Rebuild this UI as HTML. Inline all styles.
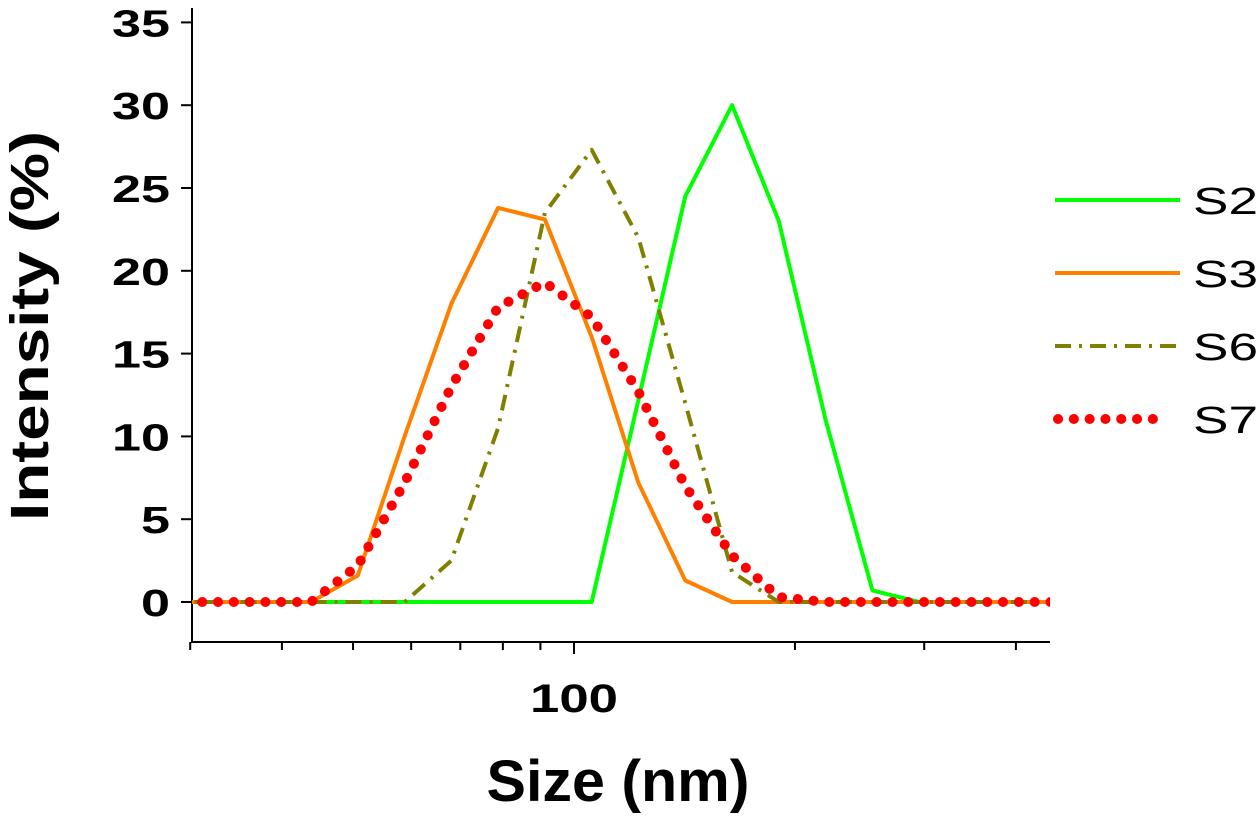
<!DOCTYPE html>
<html><head><meta charset="utf-8"><style>
body{margin:0;background:#fff;}
svg{display:block;font-family:"Liberation Sans",Arial,sans-serif;}
</style></head><body>
<svg id="chart" width="1260" height="816" viewBox="0 0 1260 816">
<defs><clipPath id="plotclip"><rect x="192" y="0" width="858" height="642"/></clipPath></defs>
<g id="axes"></g>
<g id="series" clip-path="url(#plotclip)"></g>
<g id="legend"></g>
<text x="618" y="801" font-size="58" font-weight="bold" text-anchor="middle" textLength="263" lengthAdjust="spacingAndGlyphs">Size (nm)</text>
<text transform="translate(48,326) rotate(-90)" font-size="54" font-weight="bold" text-anchor="middle" textLength="390" lengthAdjust="spacingAndGlyphs">Intensity (%)</text>
</svg>
<script>
const sizes=[28.21,32.67,37.84,43.82,50.75,58.77,68.06,78.82,91.28,105.7,122.4,141.8,164.2,190.1,220.2,255.0,295.3,342.0,396.1,458.7];
const s2=[0,0,0,0,0,0,0,0,0,0,12.2,24.5,30,23,11,0.7,0,0,0,0];
const s3=[0,0,0,0,1.6,10,18,23.8,23.1,16,7.2,1.3,0,0,0,0,0,0,0,0];
const s6=[0,0,0,0,0,0,2.5,10.5,23.5,27.3,22,12,1.8,0,0,0,0,0,0,0];
const s7=[0,0,0,0,2.2,7.2,13,17.8,19.3,17.2,12.7,7.0,2.8,0.3,0,0,0,0,0,0];
const yTicks=[0,5,10,15,20,25,30,35];
const xMinor=[30,40,50,60,70,80,90,200,300,400];
const xMajor=[100];
const legendNames=["S2","S3","S6","S7"];

const NS="http://www.w3.org/2000/svg";
const X=v=>574+734*Math.log10(v/100);
const Y=v=>602-v*16.56;
function mk(tag,attrs,parent){const e=document.createElementNS(NS,tag);for(const k in attrs)e.setAttribute(k,attrs[k]);parent.appendChild(e);return e;}
const axes=document.getElementById('axes');
let a=mk('line',{x1:192,y1:8,x2:192,y2:642,stroke:'#000','stroke-width':2},axes);


a=mk('line',{x1:191,y1:642,x2:1050,y2:642,stroke:'#000','stroke-width':2},axes);


yTicks.forEach(t=>{
  const tk=mk('line',{x1:181,y1:Y(t),x2:192,y2:Y(t),stroke:'#000','stroke-width':2},axes);
  
  
  const w=String(t).length*29;
  const tx=mk('text',{x:170,y:Y(t)+14,'font-size':38,'font-weight':'bold','text-anchor':'end',textLength:w,lengthAdjust:'spacingAndGlyphs'},axes);
  tx.textContent=t;
  
  
});
xMinor.forEach(t=>{
  const tk=mk('line',{x1:X(t),y1:642,x2:X(t),y2:650,stroke:'#000','stroke-width':2},axes);
  
  
});
xMajor.forEach(t=>{
  const tk=mk('line',{x1:X(t),y1:642,x2:X(t),y2:654,stroke:'#000','stroke-width':2},axes);
  
  
  const tx=mk('text',{x:X(t),y:712,'font-size':40,'font-weight':'bold','text-anchor':'middle',textLength:88,lengthAdjust:'spacingAndGlyphs'},axes);
  tx.textContent=t;
  
  
});
const styles=[
 {data:s2,color:'#00ff00',dash:null,cap:'butt',name:'series-s2'},
 {data:s3,color:'#ff8000',dash:null,cap:'butt',name:'series-s3'},
 {data:s6,color:'#808000',dash:'16 8 3 8',cap:'butt',name:'series-s6'},
 {data:s7,color:'#ff0000',dash:'0.1 15.7',cap:'round',name:'series-s7'}
];
const ser=document.getElementById('series');
styles.forEach(st=>{
  const pts=sizes.map((s,i)=>X(s).toFixed(1)+','+Y(st.data[i]).toFixed(1)).join(' ');
  const attrs={points:pts,fill:'none',stroke:st.color,'stroke-width':st.cap==='round'?10:4,'stroke-linecap':st.cap,'stroke-linejoin':'round'};
  if(st.dash)attrs['stroke-dasharray']=st.dash;
  const p=mk('polyline',attrs,ser);
  
  
});
const leg=document.getElementById('legend');
styles.forEach((st,i)=>{
  const y=200+i*73;
  const attrs={x1:1058,y1:y,x2:1168,y2:y,stroke:st.color,'stroke-width':st.cap==='round'?10:4,'stroke-linecap':st.cap};
  if(st.dash)attrs['stroke-dasharray']=st.dash;
  if(st.cap!=='round'){attrs.x1=1055;attrs.x2=1180;}
  const l=mk('line',attrs,leg);
  
  
  const tx=mk('text',{x:1193,y:y+14,'font-size':38,textLength:65,lengthAdjust:'spacingAndGlyphs'},leg);
  tx.textContent=legendNames[i];
  
  
});
</script>
</body></html>
